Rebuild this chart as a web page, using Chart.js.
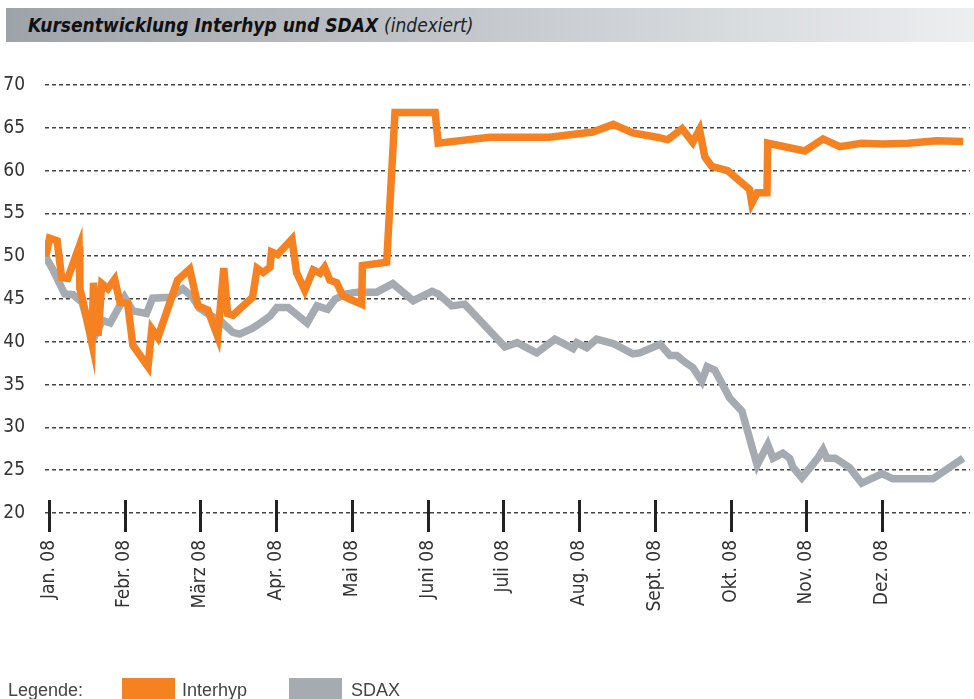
<!DOCTYPE html>
<html lang="de">
<head>
<meta charset="utf-8">
<title>Kursentwicklung Interhyp und SDAX</title>
<script src="https://cdn.jsdelivr.net/npm/chart.js@4.4.1/dist/chart.umd.min.js"></script>
<style>
  html, body { margin: 0; padding: 0; background: #fff; }
  body { width: 974px; height: 699px; position: relative; overflow: hidden; }
  #chart { position: absolute; left: 0; top: 0; }
  .title-bar {
    position: absolute; left: 6px; top: 8px; width: 968px; height: 34px;
    background: linear-gradient(to right, #9ea3a9, #eceef0);
  }
  .title-bar span.main {
    position: absolute; left: 22px; top: 6px;
    font: italic bold 19px 'Liberation Sans Narrow', 'DejaVu Sans Condensed', sans-serif;
    color: #111; white-space: nowrap;
  }
  .title-bar span.sub { font-weight: normal; color: #222; }
  .legend {
    position: absolute; left: 8px; top: 676px; height: 23px;
    font: 18px 'Liberation Sans', Arial, sans-serif; color: #444;
  }
  .legend span { position: absolute; top: 4px; white-space: nowrap; }
  .legend i { position: absolute; top: 2px; width: 53px; height: 22px; }
</style>
</head>
<body>
<div class="title-bar"><span class="main">Kursentwicklung Interhyp und SDAX <span class="sub">(indexiert)</span></span></div>
<canvas id="chart" width="974" height="699"></canvas>
<div class="legend" id="legend"></div>
<script>
document.addEventListener('DOMContentLoaded', () => {

    // month positions (0 = Jan. 08) and their labels
    const monthTicks = [0, 1, 2, 3, 4, 5, 6, 7, 8, 9, 10, 11];
    const monthLabels = ['Jan. 08', 'Febr. 08', 'März 08', 'Apr. 08', 'Mai 08', 'Juni 08',
        'Juli 08', 'Aug. 08', 'Sept. 08', 'Okt. 08', 'Nov. 08', 'Dez. 08'];

    // Interhyp (indexiert), x in months since 1 Jan 2008
    const interhypX = [-0.04, 0.01, 0.11, 0.17, 0.25, 0.40, 0.41, 0.45, 0.57, 0.59, 0.65, 0.70,
        0.78, 0.87, 0.94, 1.04, 1.11, 1.31, 1.36, 1.44, 1.70, 1.86, 1.97, 2.10, 2.23, 2.31,
        2.36, 2.43, 2.69, 2.75, 2.83, 2.92, 2.94, 3.02, 3.21, 3.27, 3.38, 3.49, 3.58, 3.64,
        3.71, 3.80, 3.88, 3.97, 4.13, 4.14, 4.46, 4.57, 5.10, 5.14, 5.82, 6.61, 7.18, 7.45,
        7.71, 8.03, 8.17, 8.36, 8.50, 8.59, 8.66, 8.75, 8.96, 9.25, 9.28, 9.35, 9.48, 9.49,
        9.98, 10.22, 10.44, 10.73, 11.01, 11.34, 11.72, 12.07];
    const interhypY = [50.0, 52.1, 51.8, 47.5, 47.4, 51.1, 46.2, 44.8, 39.8, 46.9, 40.7, 46.8,
        46.2, 47.3, 44.6, 44.5, 39.6, 37.1, 41.5, 40.5, 47.2, 48.5, 44.2, 43.7, 40.6, 48.6,
        43.3, 43.1, 45.2, 48.6, 48.1, 48.7, 50.5, 50.2, 52.0, 48.1, 46.0, 48.4, 48.0, 48.7,
        47.2, 46.9, 45.4, 45.0, 44.4, 48.9, 49.3, 66.8, 66.8, 63.2, 63.9, 63.9, 64.5, 65.4,
        64.4, 63.9, 63.6, 64.9, 63.3, 64.8, 61.6, 60.5, 60.0, 57.8, 56.2, 57.4, 57.4, 63.2,
        62.3, 63.7, 62.8, 63.2, 63.1, 63.2, 63.5, 63.4];

    // SDAX (indexiert)
    const sdaxX = [-0.04, 0.05, 0.21, 0.32, 0.44, 0.58, 0.71, 0.81, 1.00, 1.11, 1.29, 1.37,
        1.60, 1.77, 1.89, 1.99, 2.13, 2.26, 2.43, 2.52, 2.69, 2.81, 2.92, 3.01, 3.16, 3.27,
        3.41, 3.54, 3.68, 3.78, 3.93, 4.07, 4.33, 4.54, 4.81, 5.06, 5.14, 5.32, 5.49, 6.02,
        6.18, 6.44, 6.68, 6.75, 6.92, 6.97, 7.10, 7.23, 7.45, 7.71, 7.80, 8.07, 8.20, 8.29,
        8.40, 8.50, 8.62, 8.69, 8.79, 8.99, 9.15, 9.35, 9.49, 9.56, 9.69, 9.78, 9.82, 9.94,
        10.05, 10.15, 10.22, 10.27, 10.38, 10.57, 10.73, 11.00, 11.14, 11.67, 12.07];
    const sdaxY = [49.9, 48.5, 45.6, 45.5, 44.6, 40.2, 42.5, 42.2, 45.2, 43.6, 43.3, 45.1,
        45.2, 46.2, 45.3, 43.9, 43.1, 42.5, 41.1, 40.9, 41.6, 42.3, 43.0, 44.0, 44.0, 43.2,
        42.2, 44.2, 43.8, 45.0, 45.6, 45.8, 45.8, 46.8, 44.8, 45.9, 45.6, 44.2, 44.4, 39.4,
        39.9, 38.7, 40.3, 40.0, 39.2, 39.9, 39.3, 40.3, 39.8, 38.6, 38.7, 39.7, 38.4, 38.4,
        37.6, 37.0, 35.4, 37.1, 36.7, 33.4, 31.9, 25.6, 28.0, 26.4, 27.0, 26.4, 25.4, 24.1,
        25.3, 26.4, 27.4, 26.4, 26.4, 25.3, 23.5, 24.6, 24.0, 24.0, 26.4];

    const yMin = 20, yMax = 70, yStep = 5;

    const toPoints = (xs, ys) => xs.map((x, i) => ({ x: x, y: ys[i] }));
    const axisFont = { family: "'Liberation Sans Narrow', 'DejaVu Sans Condensed', sans-serif", size: 19 };

    // black month marks crossing the 20 line
    const monthMarks = {
        id: 'monthMarks',
        afterDatasetsDraw(chart) {
            const { ctx, scales: { x, y } } = chart;
            const base = y.getPixelForValue(yMin);
            ctx.save();
            ctx.strokeStyle = '#222';
            ctx.lineWidth = 3;
            monthTicks.forEach(m => {
                const px = Math.round(x.getPixelForValue(m)) + 0.5;
                ctx.beginPath();
                ctx.moveTo(px, base - 13);
                ctx.lineTo(px, base + 19);
                ctx.stroke();
            });
            ctx.restore();
        }
    };

    const chart = new Chart(document.getElementById('chart'), {
        type: 'line',
        data: {
            datasets: [{
                label: 'Interhyp',
                data: toPoints(interhypX, interhypY),
                borderColor: '#f68121',
                backgroundColor: '#f68121',
                borderWidth: 7.5,
                borderJoinStyle: 'miter',
                borderCapStyle: 'butt',
                pointRadius: 0,
                tension: 0
            }, {
                label: 'SDAX',
                data: toPoints(sdaxX, sdaxY),
                borderColor: '#a6abb1',
                backgroundColor: '#a6abb1',
                borderWidth: 7.5,
                borderJoinStyle: 'miter',
                borderCapStyle: 'butt',
                pointRadius: 0,
                tension: 0
            }]
        },
        options: {
            responsive: false,
            animation: false,
            layout: { padding: { top: 85, right: 4, left: 0, bottom: 0 } },
            plugins: { legend: { display: false }, tooltip: { enabled: false } },
            scales: {
                x: {
                    type: 'linear',
                    min: -0.05,
                    max: 12.16,
                    afterBuildTicks: scale => { scale.ticks = monthTicks.map(v => ({ value: v })); },
                    afterFit: scale => { scale.height = 186; },
                    grid: { display: false, drawTicks: false },
                    border: { display: false },
                    ticks: {
                        autoSkip: false,
                        minRotation: 90,
                        maxRotation: 90,
                        padding: 27,
                        color: '#333',
                        font: axisFont,
                        callback: (v, i) => monthLabels[i]
                    }
                },
                y: {
                    min: yMin,
                    max: yMax,
                    afterFit: scale => { scale.width = 45; },
                    grid: { color: '#444', lineWidth: 1.5, drawTicks: false },
                    border: { display: false, dash: [4, 3] },
                    ticks: { stepSize: yStep, padding: 20, color: '#333', font: axisFont }
                }
            }
        },
        plugins: [monthMarks]
    });

    // Legend from the datasets
    const legend = document.getElementById('legend');
    legend.innerHTML = '<span style="left:0">Legende:</span>';
    const slots = [{ box: 114, text: 174 }, { box: 281, text: 343 }];
    chart.data.datasets.forEach((ds, i) => {
        const s = slots[i];
        legend.insertAdjacentHTML('beforeend',
            '<i style="left:' + s.box + 'px;background:' + ds.borderColor + '"></i>' +
            '<span style="left:' + s.text + 'px">' + ds.label + '</span>');
    });
});
</script>
</body>
</html>
